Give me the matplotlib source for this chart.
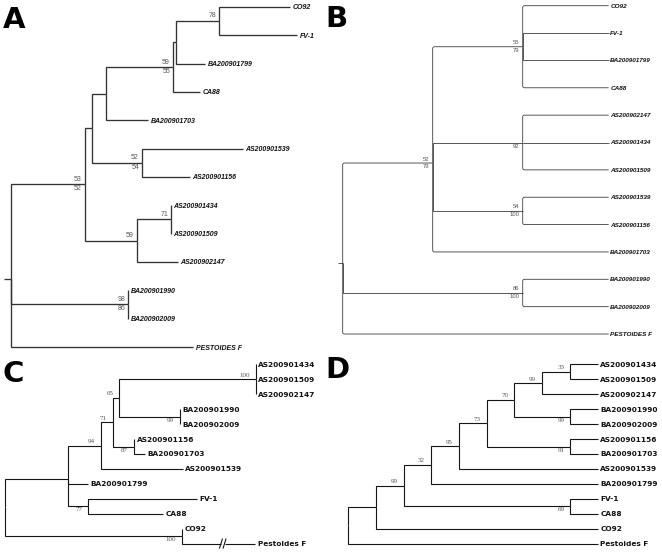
import matplotlib
matplotlib.use("Agg")
import matplotlib.pyplot as plt
from matplotlib.path import Path
from matplotlib.patches import PathPatch

# trees: newick, branch lengths in pixels,
# internal labels "above/below" = bootstrap values
tree_a = ("(((((((CO92:71,FV-1:78)78/:43,BA200901799:29):3,CA88:27)59/55:67,"
          "BA200901703:42):14,(AS200901539:101,AS200901156:48)52/54:50):7,"
          "((AS200901434:0,AS200901509:0)71/:34,AS200902147:41)59/:52)53/52:74,"
          "(BA200901990:0,BA200902009:0)98/86:117,PESTOIDES F:182);")
tree_b = ("(((CO92:86,FV-1:86,BA200901799:86,CA88:86)55/79:90,"
          "(AS200902147:86,AS200901434:86,AS200901509:86)/92:90,"
          "(AS200901539:86,AS200901156:86)54/100:90,BA200901703:176)52/79:90,"
          "(BA200901990:86,BA200902009:86)86/100:180,PESTOIDES F:266);")
tree_c = ("((((((AS200901434:0,AS200901509:0,AS200902147:0)100/:136.4,"
          "(BA200901990:0,BA200902009:0)/99:60.7)65/:6.6,"
          "(AS200901156:0,BA200901703:11)/87:21.3)71/:11.7,AS200901539:81.7)94/:32.7,"
          "BA200901799:19.7,(FV-1:108.4,CA88:75)/77:20):63.3,"
          "(CO92:0,Pestoides F:73.3)/100:176.7);")
tree_d = ("(((((((((AS200901434:27.4,AS200901509:27.4)33/:28.3,AS200902147:55.7)99/:27.7,"
          "(BA200901990:27.4,BA200902009:27.4)/99:56)70/:27.6,"
          "(AS200901156:27.4,BA200901703:27.4)/91:83.6)73/:28,AS200901539:139)95/:27.7,"
          "BA200901799:166.7)32/:27.3,(FV-1:27.4,CA88:27.4)/69:166.6)99/:27.7,"
          "CO92:221.7):28.3,Pestoides F:250);")


def parse_newick(s):
    s = s.strip().rstrip(";")
    pos = 0

    def node():
        nonlocal pos
        children = []
        if s[pos] == "(":
            pos += 1
            while True:
                children.append(node())
                ch = s[pos]
                pos += 1
                if ch == ")":
                    break
        start = pos
        while pos < len(s) and s[pos] not in ",():":
            pos += 1
        name = s[start:pos]
        length = 0.0
        if pos < len(s) and s[pos] == ":":
            pos += 1
            start = pos
            while pos < len(s) and s[pos] not in ",()":
                pos += 1
            length = float(s[start:pos])
        return {"name": name, "len": length, "children": children}

    return node()


def layout(nd, x, y0, dy, counter):
    nd["x"] = x + nd["len"]
    if not nd["children"]:
        nd["y"] = y0 + dy * counter[0]
        counter[0] += 1
    else:
        for c in nd["children"]:
            layout(c, nd["x"], y0, dy, counter)
        ys = [c["y"] for c in nd["children"]]
        nd["y"] = sum(ys) / len(ys)


def elbow(ax, nx, ny, cx, cy, lw, color, r=0.0):
    if r > 0 and abs(cy - ny) > r and cx - nx > r:
        sgn = 1 if cy > ny else -1
        verts = [(nx, ny), (nx, cy - sgn * r), (nx, cy), (nx + r, cy), (cx, cy)]
        codes = [Path.MOVETO, Path.LINETO, Path.CURVE3, Path.CURVE3, Path.LINETO]
    else:
        verts = [(nx, ny), (nx, cy), (cx, cy)]
        codes = [Path.MOVETO, Path.LINETO, Path.LINETO]
    ax.add_patch(PathPatch(Path(verts, codes), fill=False, lw=lw, ec=color,
                           joinstyle="miter", capstyle="butt"))


def draw_tree(ax, nd, st):
    kids = nd["children"]
    for i, c in enumerate(kids):
        r = st["round"] if i in (0, len(kids) - 1) else 0
        if c["name"] == st.get("break_leaf"):
            bx = nd["x"] + st["break_at"] * (c["x"] - nd["x"])
            elbow(ax, nd["x"], nd["y"], bx - 1.8, c["y"], st["lw"], st["lc"])
            ax.plot([bx + 1.8, c["x"]], [c["y"]] * 2, lw=st["lw"], color=st["lc"],
                    solid_capstyle="butt")
            for sx in (bx - 1.8, bx + 1.8):
                ax.plot([sx - 1.4, sx + 1.4], [c["y"] + 4.5, c["y"] - 4.5], lw=st["lw"],
                        color=st["lc"])
        else:
            elbow(ax, nd["x"], nd["y"], c["x"], c["y"], st["lw"], st["lc"], r)
        draw_tree(ax, c, st)
    if not kids:
        ax.text(nd["x"] + st["tip_gap"], nd["y"], nd["name"], ha="left",
                va="center_baseline", fontsize=st["tip_fs"], family=st["tip_font"],
                weight="bold", style=st["tip_style"], color="#111111")
    elif nd["name"]:
        above, below = nd["name"].split("/")
        bx = nd["x"] - st["bs_gap"]
        if above:
            ax.text(bx, nd["y"] - 1.5, above, ha="right", va="bottom",
                    fontsize=st["bs_fs"], family=st["bs_font"], color="#555555")
        if below:
            ax.text(bx, nd["y"] + 1.0, below, ha="right", va="top",
                    fontsize=st["bs_fs"], family=st["bs_font"], color="#555555")


panels = [
    dict(tree=tree_a, letter="A", lx=3, ly=28.3, x0=11, y0=6.8, dy=28.35, tick=7,
         lw=0.95, lc="#333333", round=0, tip_gap=2.5, tip_fs=5.0,
         tip_font="Liberation Sans", tip_style="italic", bs_gap=3, bs_fs=5.0,
         bs_font="Liberation Sans"),
    dict(tree=tree_b, letter="B", lx=325, ly=27.3, x0=342.7, y0=5.7, dy=27.36, tick=4.7,
         lw=0.6, lc="#3c3c3c", round=1.8, tip_gap=1.5, tip_fs=4.6,
         tip_font="Liberation Sans", tip_style="italic", bs_gap=3, bs_fs=4.2,
         bs_font="Liberation Sans"),
    dict(tree=tree_c, letter="C", lx=3, ly=382.5, x0=5, y0=364.4, dy=14.93, tick=0,
         lw=0.8, lc="#151515", round=0, tip_gap=2.6, tip_fs=5.3,
         tip_font="DejaVu Sans", tip_style="normal", bs_gap=6, bs_fs=5.0,
         bs_font="Liberation Serif", break_leaf="Pestoides F", break_at=0.56),
    dict(tree=tree_d, letter="D", lx=325, ly=378.3, x0=347.7, y0=364.4, dy=14.93, tick=0,
         lw=0.8, lc="#151515", round=0, tip_gap=2.6, tip_fs=5.3,
         tip_font="DejaVu Sans", tip_style="normal", bs_gap=6, bs_fs=5.0,
         bs_font="Liberation Serif"),
]

fig = plt.figure(figsize=(6.62, 5.55), dpi=100)
ax = fig.add_axes([0, 0, 1, 1])
ax.set_xlim(0, 662)
ax.set_ylim(555, 0)
ax.axis("off")

for p in panels:
    root = parse_newick(p["tree"])
    layout(root, p["x0"], p["y0"], p["dy"], [0])
    draw_tree(ax, root, p)
    if p["tick"]:
        ax.plot([root["x"] - p["tick"], root["x"]], [root["y"]] * 2, lw=p["lw"],
                color=p["lc"], solid_capstyle="butt")
    ax.text(p["lx"], p["ly"], p["letter"], ha="left", va="baseline", fontsize=21,
            family="DejaVu Sans", weight="bold", color="black")

fig.savefig("out.png", dpi=100)
